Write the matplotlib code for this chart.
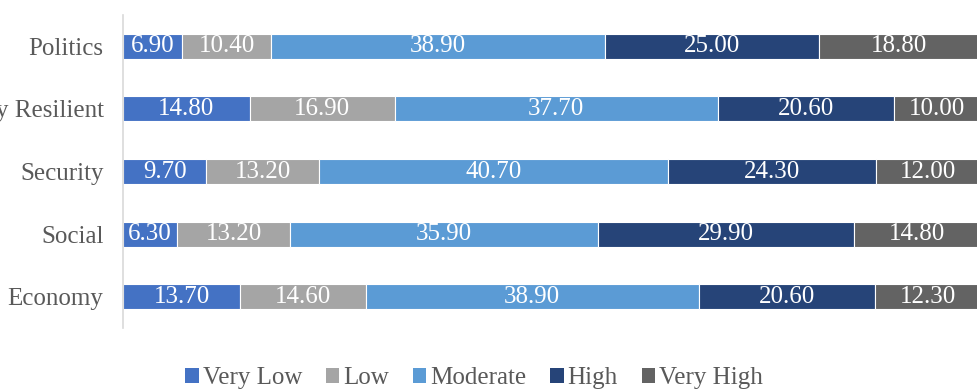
#!/usr/bin/env python3
"""Stacked horizontal bars of rating shares per domain."""

import matplotlib

matplotlib.use("Agg")
import matplotlib.pyplot as plt
from matplotlib.patches import Patch

CATEGORIES = ["Economy", "Social", "Security", "Community Resilient", "Politics"]
LEVELS = ["Very Low", "Low", "Moderate", "High", "Very High"]
COLORS = ["#4472C4", "#A5A5A5", "#5B9BD5", "#264478", "#636363"]

VERY_LOW = [13.70, 6.30, 9.70, 14.80, 6.90]
LOW = [14.60, 13.20, 13.20, 16.90, 10.40]
MODERATE = [38.90, 35.90, 40.70, 37.70, 38.90]
HIGH = [20.60, 29.90, 24.30, 20.60, 25.00]
VERY_HIGH = [12.30, 14.80, 12.00, 10.00, 18.80]

SERIES = [VERY_LOW, LOW, MODERATE, HIGH, VERY_HIGH]
FS = 18

plt.rcParams["font.family"] = ["Liberation Serif", "DejaVu Serif"]

fig = plt.figure(figsize=(9.78, 3.9), dpi=100)
ax = fig.add_axes([123 / 978, 62 / 390, 857 / 978, 313 / 390])

ypos = list(range(len(CATEGORIES)))
left = [0.0] * len(CATEGORIES)
for values, color in zip(SERIES, COLORS):
    bars = ax.barh(ypos, values, left=left, height=0.4, color=color,
                   edgecolor="white", linewidth=0.8)
    for bar, v in zip(bars, values):
        ax.text(bar.get_x() + bar.get_width() / 2, bar.get_y() + bar.get_height() / 2,
                f"{v:.2f}", ha="center", va="center", color="white", fontsize=FS)
    left = [l + v for l, v in zip(left, values)]

ax.set_xlim(0, 100)
ax.set_ylim(-0.5, len(CATEGORIES) - 0.5)
ax.set_yticks(ypos)
ax.set_yticklabels(CATEGORIES, fontsize=FS, color="#595959")
ax.tick_params(axis="y", length=0, pad=14)
ax.set_xticks([])
for side in ["top", "right", "bottom"]:
    ax.spines[side].set_visible(False)
ax.spines["left"].set_color("#D9D9D9")
ax.spines["left"].set_linewidth(1.2)

handles = [Patch(facecolor=c, edgecolor="none") for c in COLORS]
fig.legend(handles, LEVELS, loc="center", bbox_to_anchor=(474 / 978, 12 / 390),
           ncol=5, frameon=False, fontsize=FS, labelcolor="#595959",
           handlelength=0.55, handleheight=0.55, handletextpad=0.15, columnspacing=0.95,
           borderpad=0.1)

fig.savefig("out.png", dpi=100)
